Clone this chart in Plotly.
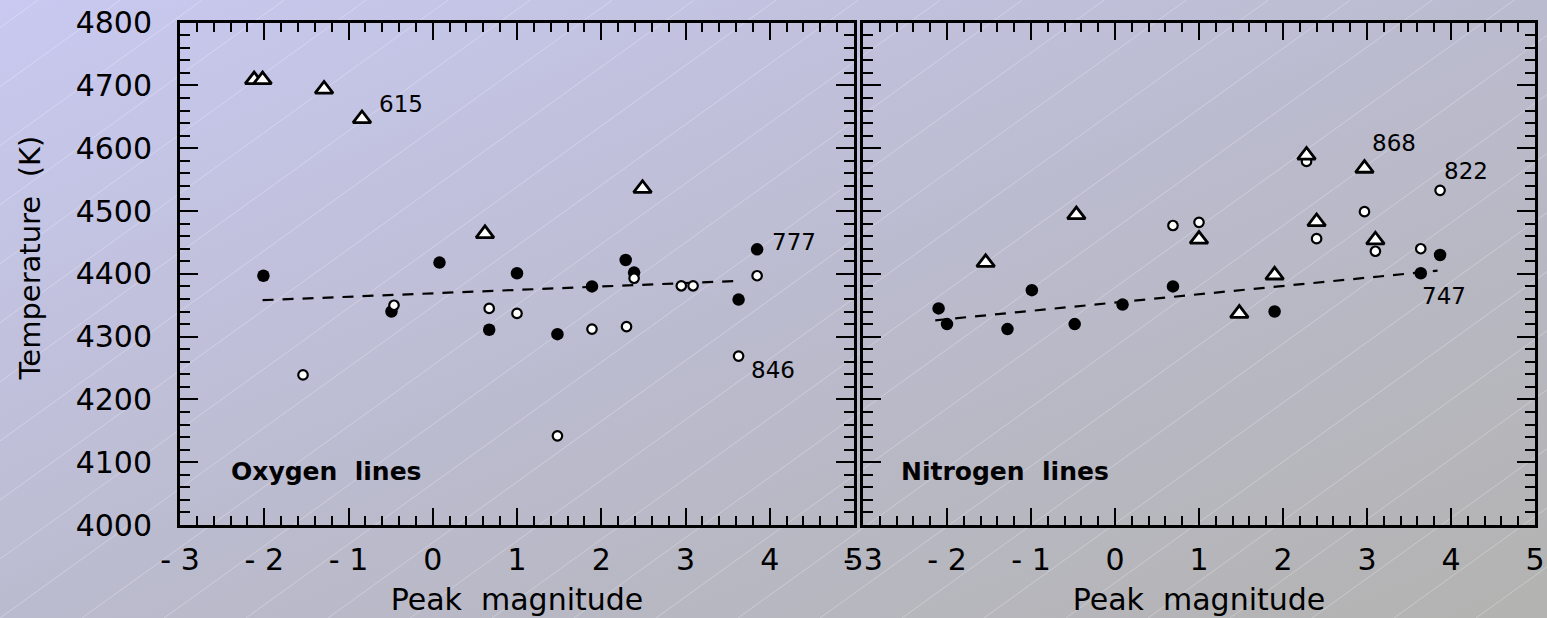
import base64
import plotly.graph_objects as go

# ---------------- data ----------------
# Oxygen lines (left panel)
filled_O_x = [-2.01, -0.49, 0.08, 0.67, 1.00, 1.48, 1.89, 2.29, 2.39, 3.63, 3.85]
filled_O_y = [4397, 4340, 4418, 4311, 4401, 4304, 4380, 4422, 4402, 4359, 4439]
open_O_x = [-1.54, -0.46, 0.67, 1.00, 1.48, 1.89, 2.30, 2.39, 2.95, 3.09, 3.63, 3.85]
open_O_y = [4239, 4350, 4345, 4337, 4142, 4312, 4316, 4393, 4381, 4381, 4269, 4397]
tri_O_x = [-2.12, -2.02, -1.29, -0.84, 0.62, 2.49]
tri_O_y = [4709, 4709, 4694, 4647, 4464, 4536]
fit_O_x = [-2.02, 3.67]
fit_O_y = [4358, 4389]

# Nitrogen lines (right panel)
filled_N_x = [-2.10, -2.00, -1.28, -0.99, -0.48, 0.09, 0.69, 1.90, 3.64, 3.87]
filled_N_y = [4345, 4320, 4312, 4374, 4320, 4351, 4380, 4340, 4401, 4430]
open_N_x = [0.69, 1.00, 2.28, 2.40, 2.97, 3.10, 3.64, 3.87]
open_N_y = [4477, 4482, 4579, 4456, 4499, 4436, 4440, 4533]
tri_N_x = [-1.54, -0.46, 1.00, 1.48, 1.90, 2.28, 2.40, 2.97, 3.10]
tri_N_y = [4418, 4494, 4455, 4337, 4398, 4589, 4483, 4568, 4454]
fit_N_x = [-2.14, 3.84]
fit_N_y = [4326, 4405]

x_tickvals = [-3, -2, -1, 0, 1, 2, 3, 4, 5]
x_ticktext = ["- 3", "- 2", "- 1", "0", "1", "2", "3", "4", "5"]

FONT = "DejaVu Sans"
W, H = 1547, 618

# ---------------- background (gradient + faint diagonal lines) ----------------
lines_svg = []
for k in range(-12, 22):
    x0 = k * 82
    x1 = x0 + H / 0.72
    lines_svg.append(
        f'<line x1="{x0:.1f}" y1="{H}" x2="{x1:.1f}" y2="0" '
        f'stroke="white" stroke-opacity="0.28" stroke-width="1"/>'
    )
svg = (
    f'<svg xmlns="http://www.w3.org/2000/svg" width="{W}" height="{H}" viewBox="0 0 {W} {H}" preserveAspectRatio="none">'
    '<defs><linearGradient id="g" x1="0" y1="0" x2="1" y2="1">'
    '<stop offset="0" stop-color="#c9c9f1"/>'
    '<stop offset="0.5" stop-color="#bbbbcf"/>'
    '<stop offset="1" stop-color="#b3b3b1"/>'
    '</linearGradient></defs>'
    f'<rect width="{W}" height="{H}" fill="url(#g)"/>'
    + "".join(lines_svg)
    + "</svg>"
)
bg_src = "data:image/svg+xml;base64," + base64.b64encode(svg.encode()).decode()

# ---------------- traces ----------------
fig = go.Figure()

def add_panel(fx, fy, ox, oy, tx, ty, lx, ly, xa, ya):
    fig.add_trace(go.Scatter(x=lx, y=ly, mode="lines", xaxis=xa, yaxis=ya,
                             line=dict(color="black", width=2.2, dash="11px,9px"),
                             showlegend=False, hoverinfo="skip"))
    fig.add_trace(go.Scatter(x=fx, y=fy, mode="markers", xaxis=xa, yaxis=ya,
                             marker=dict(symbol="circle", size=12.5, color="black",
                                         line=dict(width=0)),
                             showlegend=False))
    fig.add_trace(go.Scatter(x=ox, y=oy, mode="markers", xaxis=xa, yaxis=ya,
                             marker=dict(symbol="circle", size=9.5, color="white",
                                         line=dict(color="black", width=2.2)),
                             showlegend=False))
    fig.add_trace(go.Scatter(x=tx, y=ty, mode="markers", xaxis=xa, yaxis=ya,
                             marker=dict(symbol="triangle-up", size=15.5, color="white",
                                         line=dict(color="black", width=2.8)),
                             showlegend=False))

add_panel(filled_O_x, filled_O_y, open_O_x, open_O_y, tri_O_x, tri_O_y,
          fit_O_x, fit_O_y, "x", "y")
add_panel(filled_N_x, filled_N_y, open_N_x, open_N_y, tri_N_x, tri_N_y,
          fit_N_x, fit_N_y, "x2", "y2")

# ---------------- axes ----------------
def xaxis_cfg(domain, anchor):
    return dict(
        domain=domain, anchor=anchor, range=[-3, 5], automargin=False,
        tickmode="array", tickvals=x_tickvals, ticktext=x_ticktext,
        showline=True, linecolor="black", linewidth=3, mirror="allticks",
        ticks="inside", ticklen=17, tickwidth=2, tickcolor="black",
        ticklabelstandoff=6,
        minor=dict(tickmode="linear", tick0=-3, dtick=0.2, ticks="inside",
                   ticklen=9, tickwidth=2, tickcolor="black", showgrid=False),
        showgrid=False, zeroline=False,
        tickfont=dict(family=FONT, size=30, color="black"),
        title=dict(text="Peak\u00a0\u00a0magnitude", standoff=13,
                   font=dict(family=FONT, size=30, color="black")),
    )

def yaxis_cfg(anchor, labels):
    return dict(
        domain=[1 - 525 / H, 1 - 22.7 / H], anchor=anchor, range=[4000, 4800],
        automargin=False,
        tickmode="linear", tick0=4000, dtick=100,
        showticklabels=labels,
        showline=True, linecolor="black", linewidth=3, mirror="allticks",
        ticks="inside", ticklen=18, tickwidth=2, tickcolor="black",
        ticklabelstandoff=19,
        minor=dict(tickmode="linear", tick0=4000, dtick=20, ticks="inside",
                   ticklen=10, tickwidth=2, tickcolor="black", showgrid=False),
        showgrid=False, zeroline=False,
        tickfont=dict(family=FONT, size=30, color="black"),
    )

annots = []
def label(text, xr, yr, x, y, xshift, yshift):
    annots.append(dict(text=text, xref=xr, yref=yr, x=x, y=y, xanchor="left",
                       yanchor="middle", xshift=xshift, yshift=yshift,
                       showarrow=False,
                       font=dict(family=FONT, size=23, color="black")))

label("615", "x", "y", tri_O_x[3], tri_O_y[3], 15, 15)
label("777", "x", "y", filled_O_x[10], filled_O_y[10], 13, 7)
label("846", "x", "y", open_O_x[10], open_O_y[10], 10, -14)
label("868", "x2", "y2", tri_N_x[7], tri_N_y[7], 6, 25)
label("822", "x2", "y2", open_N_x[7], open_N_y[7], 2, 19)
label("747", "x2", "y2", filled_N_x[8], filled_N_y[8], -1, -23)

for txt, xr, yr, xpos in [("Oxygen\u00a0\u00a0lines", "x domain", "y domain", 0.0727),
                          ("Nitrogen\u00a0\u00a0lines", "x2 domain", "y2 domain", 0.0536)]:
    annots.append(dict(text=f"<b>{txt}</b>", xref=xr, yref=yr, x=xpos, y=0.106,
                       xanchor="left", yanchor="middle", showarrow=False,
                       font=dict(family=FONT, size=25, color="black")))

annots.append(dict(text="Temperature\u00a0\u00a0(K)", xref="paper", yref="paper",
                   x=29.5 / W, y=1 - 258 / H, xanchor="center", yanchor="middle",
                   textangle=-90, showarrow=False,
                   font=dict(family=FONT, size=29, color="black")))

fig.update_layout(
    template="none",
    width=W, height=H,
    margin=dict(l=0, r=0, t=0, b=0, pad=0, autoexpand=False),
    paper_bgcolor="#bdbdd2",
    plot_bgcolor="rgba(0,0,0,0)",
    xaxis=xaxis_cfg([180 / W, 854 / W], "y"),
    xaxis2=xaxis_cfg([863 / W, 1535 / W], "y2"),
    yaxis=yaxis_cfg("x", True),
    yaxis2=yaxis_cfg("x2", False),
    annotations=annots,
    images=[dict(source=bg_src, xref="paper", yref="paper", x=0, y=1,
                 sizex=1, sizey=1, xanchor="left", yanchor="top",
                 sizing="stretch", layer="below")],
    showlegend=False,
)

fig.write_html("out.html")
